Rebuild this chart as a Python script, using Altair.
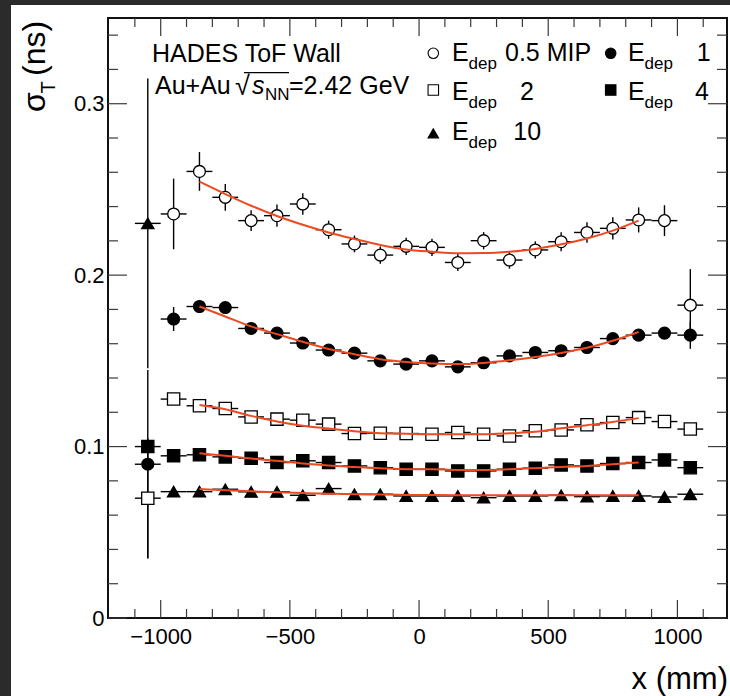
import altair as alt
import pandas as pd

FONT = "Liberation Sans"

# ---------------- data ----------------
x_mm = [-1050, -950, -850, -750, -650, -550, -450, -350, -250, -150, -50,
        50, 150, 250, 350, 450, 550, 650, 750, 850, 950, 1050]
x_halfwidth = [50] * 22

sig_05 = [None, 0.2357, 0.2605, 0.2454, 0.2318, 0.2347, 0.2415, 0.2265, 0.2182, 0.2117, 0.2168,
          0.2162, 0.2074, 0.2201, 0.2088, 0.2147, 0.2195, 0.2249, 0.2273, 0.2322, 0.2318, 0.1825]
err_05 = [None, 0.0206, 0.0113, 0.0078, 0.0060, 0.0065, 0.0063, 0.0053, 0.0049, 0.0050, 0.0050,
          0.0050, 0.0050, 0.0050, 0.0050, 0.0050, 0.0055, 0.0060, 0.0065, 0.0073, 0.0090, 0.0210]

sig_1 = [0.0897, 0.1744, 0.1817, 0.1811, 0.1689, 0.1662, 0.1604, 0.1563, 0.1545, 0.1500, 0.1481,
         0.1500, 0.1465, 0.1489, 0.1529, 0.1549, 0.1559, 0.1578, 0.1630, 0.1650, 0.1662, 0.1650]
err_1 = [0.0550, 0.0070, 0.0035, 0.0030, 0.0030, 0.0030, 0.0030, 0.0030, 0.0030, 0.0030, 0.0030,
         0.0030, 0.0030, 0.0030, 0.0030, 0.0030, 0.0030, 0.0030, 0.0030, 0.0030, 0.0030, 0.0080]

sig_2 = [0.0699, 0.1277, 0.1238, 0.1222, 0.1173, 0.1160, 0.1154, 0.1131, 0.1076, 0.1078, 0.1076,
         0.1072, 0.1082, 0.1072, 0.1062, 0.1092, 0.1097, 0.1127, 0.1140, 0.1169, 0.1146, 0.1102]
err_2 = [0.0350, 0.0025, 0.0020, 0.0020, 0.0020, 0.0020, 0.0020, 0.0020, 0.0020, 0.0020, 0.0020,
         0.0020, 0.0020, 0.0020, 0.0020, 0.0020, 0.0020, 0.0020, 0.0020, 0.0020, 0.0020, 0.0025]

sig_4 = [0.1000, 0.0946, 0.0952, 0.0940, 0.0932, 0.0907, 0.0917, 0.0907, 0.0887, 0.0877, 0.0868,
         0.0868, 0.0858, 0.0858, 0.0868, 0.0874, 0.0893, 0.0887, 0.0901, 0.0907, 0.0922, 0.0877]
err_4 = [0.0030, 0.0020, 0.0015, 0.0015, 0.0015, 0.0015, 0.0015, 0.0015, 0.0015, 0.0015, 0.0015,
         0.0015, 0.0015, 0.0015, 0.0015, 0.0015, 0.0015, 0.0015, 0.0015, 0.0015, 0.0015, 0.0020]

sig_10 = [0.2302, 0.0737, 0.0737, 0.0751, 0.0736, 0.0736, 0.0716, 0.0755, 0.0722, 0.0722, 0.0712,
          0.0712, 0.0712, 0.0702, 0.0712, 0.0712, 0.0716, 0.0708, 0.0712, 0.0712, 0.0706, 0.0722]
err_10 = [0.0845, 0.0015, 0.0015, 0.0015, 0.0015, 0.0015, 0.0015, 0.0015, 0.0015, 0.0015, 0.0015,
          0.0015, 0.0015, 0.0015, 0.0015, 0.0015, 0.0015, 0.0015, 0.0015, 0.0015, 0.0015, 0.0015]

fit_x = [-850, -750, -650, -550, -450, -350, -250, -150, -50,
         50, 150, 250, 350, 450, 550, 650, 750, 850]
fit_05 = [0.2545, 0.2473, 0.2405, 0.2345, 0.2294, 0.2249, 0.2211, 0.2176, 0.2150,
          0.2137, 0.2128, 0.2129, 0.2137, 0.2153, 0.2180, 0.2214, 0.2260, 0.2318]
fit_1 = [0.1817, 0.1759, 0.1701, 0.1656, 0.1611, 0.1569, 0.1539, 0.1510, 0.1494,
         0.1485, 0.1481, 0.1488, 0.1503, 0.1522, 0.1546, 0.1576, 0.1617, 0.1668]
fit_2 = [0.1243, 0.1218, 0.1179, 0.1146, 0.1121, 0.1105, 0.1090, 0.1078, 0.1075,
         0.1072, 0.1072, 0.1072, 0.1078, 0.1086, 0.1107, 0.1125, 0.1144, 0.1166]
fit_4 = [0.0961, 0.0946, 0.0930, 0.0917, 0.0901, 0.0889, 0.0881, 0.0874, 0.0868,
         0.0868, 0.0864, 0.0864, 0.0868, 0.0874, 0.0881, 0.0887, 0.0897, 0.0907]
fit_10 = [0.0752, 0.0745, 0.0739, 0.0734, 0.0729, 0.0725, 0.0722, 0.0720, 0.0718,
          0.0717, 0.0716, 0.0716, 0.0716, 0.0716, 0.0716, 0.0716, 0.0716, 0.0716]

series_keys = ["0.5", "1", "2", "4", "10"]
legend_values = ["0.5 MIP", "1", "2", "4", "10"]

x_major = [-1000, -500, 0, 500, 1000]
x_minor = [-1100, -900, -800, -700, -600, -400, -300, -200, -100,
           100, 200, 300, 400, 600, 700, 800, 900, 1100]
y_major = [0.0, 0.1, 0.2, 0.3]
y_minor = [0.02, 0.04, 0.06, 0.08, 0.12, 0.14, 0.16, 0.18,
           0.22, 0.24, 0.26, 0.28, 0.32, 0.34]

header_1 = "HADES ToF Wall"
header_2a = "Au+Au"
header_2b = "\u221a"
header_2c = "s"
header_2d = "NN"
header_2e = "=2.42 GeV"

# ---------------- tables ----------------
sig = {"0.5": sig_05, "1": sig_1, "2": sig_2, "4": sig_4, "10": sig_10}
err = {"0.5": err_05, "1": err_1, "2": err_2, "4": err_4, "10": err_10}
fits = {"0.5": fit_05, "1": fit_1, "2": fit_2, "4": fit_4, "10": fit_10}

rows = []
for k in series_keys:
    for xv, hw, yv, ev in zip(x_mm, x_halfwidth, sig[k], err[k]):
        if yv is None:
            continue
        rows.append({"series": k, "x": xv, "xl": xv - hw, "xr": xv + hw,
                     "y": yv, "lo": yv - ev, "hi": yv + ev})
pts = pd.DataFrame(rows)

fit_rows = []
for k in series_keys:
    for xv, yv in zip(fit_x, fits[k]):
        fit_rows.append({"series": k, "x": xv, "y": yv})
fitdf = pd.DataFrame(fit_rows)

# ---------------- styles ----------------
W, H = 619, 600
XS = alt.Scale(domain=[-1204, 1192], nice=False, zero=False)
YS = alt.Scale(domain=[0, 0.35], nice=False, zero=False)
style = {
    "0.5": dict(shape="circle", fill="white", size=140),
    "1": dict(shape="circle", fill="black", size=140),
    "2": dict(shape="square", fill="white", size=150),
    "4": dict(shape="square", fill="black", size=150),
    "10": dict(shape="triangle-up", fill="black", size=150),
}
FIT_COLOR = "#ee4a22"
TICK_COLOR = "#3a3a3a"

XAX = alt.Axis(values=x_major, format="d", labelFontSize=22, labelFont=FONT, labelColor="black",
               labelPadding=8, domain=False, ticks=False, grid=False, title=None)
YAX = alt.Axis(values=y_major, labelExpr="datum.value == 0 ? '0' : format(datum.value, '.1f')",
               labelFontSize=22, labelFont=FONT, labelColor="black", labelPadding=4,
               domain=False, ticks=False, grid=False, title=None)


def X(f):
    return alt.X(f, scale=XS, axis=XAX)


def Y(f):
    return alt.Y(f, scale=YS, axis=YAX)


layers = []

# dark strips of the outer frame of the picture
dummy = pd.DataFrame({"d": [0]})
layers.append(alt.Chart(dummy).mark_rect(color="#2b2b2b").encode(
    x=alt.value(-108), x2=alt.value(-97), y=alt.value(-18), y2=alt.value(678)))
layers.append(alt.Chart(dummy).mark_rect(color="#2b2b2b").encode(
    x=alt.value(-108), x2=alt.value(622), y=alt.value(-18), y2=alt.value(-13)))

# ticks on all four sides, pointing inward
xt_major = pd.DataFrame({"t": x_major})
xt_minor = pd.DataFrame({"t": x_minor})
yt_major = pd.DataFrame({"t": y_major})
yt_minor = pd.DataFrame({"t": y_minor})
for df, ln in [(xt_major, 18), (xt_minor, 9)]:
    layers.append(alt.Chart(df).mark_rule(color=TICK_COLOR, strokeWidth=1.2).encode(
        x=X("t:Q"), y=alt.value(H), y2=alt.value(H - ln)))
    layers.append(alt.Chart(df).mark_rule(color=TICK_COLOR, strokeWidth=1.2).encode(
        x=X("t:Q"), y=alt.value(0), y2=alt.value(ln)))
for df, ln in [(yt_major, 19), (yt_minor, 10)]:
    layers.append(alt.Chart(df).mark_rule(color=TICK_COLOR, strokeWidth=1.2).encode(
        y=Y("t:Q"), x=alt.value(0), x2=alt.value(ln)))
    layers.append(alt.Chart(df).mark_rule(color=TICK_COLOR, strokeWidth=1.2).encode(
        y=Y("t:Q"), x=alt.value(W), x2=alt.value(W - ln)))

# error bars
layers.append(alt.Chart(pts).mark_rule(color="black", strokeWidth=1.4).encode(
    x=X("xl:Q"), x2="xr:Q", y=Y("y:Q")))
layers.append(alt.Chart(pts).mark_rule(color="black", strokeWidth=1.4).encode(
    x=X("x:Q"), y=Y("lo:Q"), y2="hi:Q"))

# markers
for k in series_keys:
    st = style[k]
    layers.append(alt.Chart(pts).transform_filter(alt.datum.series == k).mark_point(
        shape=st["shape"], filled=True, fill=st["fill"], stroke="black", strokeWidth=1.3,
        size=st["size"], opacity=1).encode(x=X("x:Q"), y=Y("y:Q")))

# fit curves
layers.append(alt.Chart(fitdf).mark_line(color=FIT_COLOR, strokeWidth=2, interpolate="monotone").encode(
    x=X("x:Q"), y=Y("y:Q"), detail="series:N"))


def txt(s, x, y, size, angle=0, align="left", italic=False):
    return alt.Chart(dummy).mark_text(
        x=x, y=y, fontSize=size, font=FONT, align=align, baseline="alphabetic",
        angle=angle, fontStyle="italic" if italic else "normal", color="black"
    ).encode(text=alt.value(s))


# axis titles
layers.append(txt("x (mm)", 620, 670.5, 31, align="right"))
layers.append(txt("\u03c3", -63, 94, 32, angle=270))
layers.append(txt("T", -53, 75.5, 20, angle=270))
layers.append(txt("(ns)", -63, 58, 32, angle=270))

# header
layers.append(txt(header_1, 44, 44.3, 25))
layers.append(txt(header_2a, 47, 76, 25))
layers.append(txt(header_2b, 127, 77, 27))
layers.append(txt(header_2c, 144, 76, 25, italic=True))
layers.append(txt(header_2d, 157, 82, 17))
layers.append(txt(header_2e, 181, 76, 25))
layers.append(alt.Chart(dummy).mark_rule(color="black", strokeWidth=1.3).encode(
    x=alt.value(136), x2=alt.value(181), y=alt.value(54.7), y2=alt.value(54.7)))

# legend (layout positions)
leg_pos = {
    "0.5": dict(mx=325.3, my=35.3, ex=344, eb=42.7, vx=397),
    "1": dict(mx=502.7, my=35.3, ex=520, eb=42.7, vx=588.7),
    "2": dict(mx=325.3, my=72.0, ex=344, eb=82.0, vx=412),
    "4": dict(mx=502.7, my=72.0, ex=520, eb=82.0, vx=587),
    "10": dict(mx=325.3, my=115.3, ex=344, eb=122.0, vx=405.3),
}
for k, lab in zip(series_keys, legend_values):
    p = leg_pos[k]
    st = style[k]
    layers.append(alt.Chart(dummy).mark_point(
        shape=st["shape"], filled=True, fill=st["fill"], stroke="black", strokeWidth=1.1,
        size=110, opacity=1, x=p["mx"], y=p["my"]).encode(opacity=alt.value(1)))
    layers.append(txt("E", p["ex"], p["eb"], 25))
    layers.append(txt("dep", p["ex"] + 16.5, p["eb"] + 7.8, 17))
    layers.append(txt(lab, p["vx"], p["eb"], 25))

chart = alt.layer(*layers).properties(
    width=W, height=H,
    padding={"left": 108, "top": 18, "right": 3, "bottom": 78},
    autosize=alt.AutoSizeParams(type="none"),
    background="white",
).configure_view(stroke="#111111", strokeWidth=2)

chart.save("out.html", embed_options={"renderer": "svg", "actions": False})
